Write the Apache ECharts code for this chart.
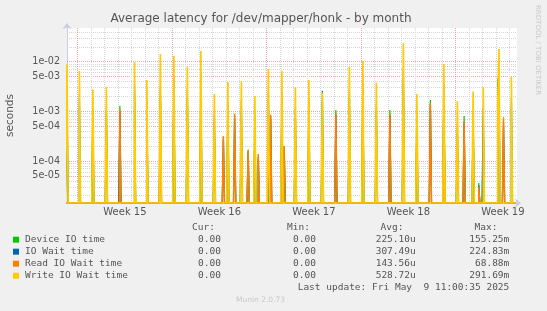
<!DOCTYPE html>
<html><head><meta charset="utf-8">
<script src="https://cdn.jsdelivr.net/npm/echarts@6/dist/echarts.min.js"></script>
<style>html,body{margin:0;padding:0;background:#f0f0f0;} #c{width:547px;height:311px;}</style>
</head><body><div id="c"></div>
<script>
// ---- data ----
const spikeTimes = [
  '2025-04-06 06:00','2025-04-07 04:00','2025-04-08 04:00','2025-04-09 04:00','2025-04-10 04:00',
  '2025-04-11 06:00','2025-04-12 04:00','2025-04-13 04:00','2025-04-14 04:00','2025-04-15 04:00',
  '2025-04-16 04:00','2025-04-17 04:00','2025-04-17 20:00','2025-04-18 04:00','2025-04-18 16:00',
  '2025-04-19 04:00','2025-04-19 16:00','2025-04-20 04:00','2025-04-20 10:00','2025-04-21 04:00',
  '2025-04-21 08:00','2025-04-22 04:00','2025-04-22 08:00','2025-04-23 04:00','2025-04-24 04:00',
  '2025-04-25 04:00','2025-04-26 04:00','2025-04-27 04:00','2025-04-28 04:00','2025-04-29 04:00',
  '2025-04-30 04:00','2025-05-01 04:00','2025-05-02 04:00','2025-05-03 04:00','2025-05-04 04:00',
  '2025-05-05 04:00','2025-05-05 16:00','2025-05-06 08:00','2025-05-06 18:00','2025-05-07 02:00',
  '2025-05-08 04:00','2025-05-08 06:00','2025-05-08 14:00','2025-05-09 04:00'
];
const deviceIO = [
  2.0e-3,1.5e-3,8.0e-4,9.0e-4,1.3e-3,
  2.5e-3,1.2e-3,2.0e-3,3.5e-3,2.0e-3,
  4.0e-3,6.0e-4,2.5e-4,1.0e-3,7.0e-4,
  1.0e-3,1.7e-4,5.0e-4,1.1e-4,1.8e-3,
  7.0e-4,1.6e-3,1.8e-4,8.0e-4,1.2e-3,
  1.5e-3,1.07e-3,2.0e-3,2.5e-3,1.0e-3,
  1.07e-3,5.0e-3,6.0e-4,1.7e-3,2.9e-3,
  4.0e-4,8.1e-4,7.0e-4,3.6e-5,8.0e-4,
  3.8e-3,1.5e-3,5.0e-4,1.3e-3
];
const ioWait = [
  3.0e-3,2.2e-3,1.1e-3,1.2e-3,1.0e-3,
  3.5e-3,1.6e-3,3.1e-3,5.0e-3,2.8e-3,
  6.0e-3,9.0e-4,3.0e-4,1.5e-3,8.0e-4,
  1.6e-3,1.5e-4,8.0e-4,1.2e-4,2.6e-3,
  8.0e-4,2.4e-3,2.0e-4,1.2e-3,1.7e-3,
  2.6e-3,8.5e-4,2.9e-3,3.6e-3,1.4e-3,
  8.5e-4,7.5e-3,9.0e-4,1.4e-3,3.5e-3,
  6.0e-4,6.0e-4,1.0e-3,3.2e-5,1.2e-3,
  4.5e-3,5.0e-3,6.0e-4,1.9e-3
];
const readIO = [
  0,0,0,0,1.1e-3,
  0,0,2.0e-3,0,0,
  0,0,3.2e-4,0,8.9e-4,
  0,1.6e-4,0,1.39e-4,0,
  8.5e-4,0,2.0e-4,0,0,
  0,8.9e-4,0,0,0,
  8.9e-4,0,0,1.46e-3,1.4e-3,
  0,6.4e-4,0,3.0e-5,0,
  0,0,7.6e-4,0
];
const writeIO = [
  9.0e-3,6.5e-3,2.8e-3,3.1e-3,0,
  9.9e-3,4.3e-3,1.43e-2,1.32e-2,7.9e-3,
  1.64e-2,2.24e-3,0,3.9e-3,0,
  4.1e-3,0,2.04e-3,0,7.1e-3,
  0,6.5e-3,0,3.1e-3,4.3e-3,
  2.4e-3,0,7.9e-3,1.03e-2,3.8e-3,
  0,2.35e-2,2.24e-3,0,9.0e-3,
  1.6e-3,0,2.5e-3,0,3.1e-3,
  2.0e-3,1.8e-2,0,4.9e-3
];
const seriesNames = ['Device IO time','IO Wait time','Read IO Wait time','Write IO Wait time'];
const seriesColors = ['#00CC00','#0066B3','#FF8000','#FFCC00'];
const legendCur = ['0.00','0.00','0.00','0.00'];
const legendMin = ['0.00','0.00','0.00','0.00'];
const legendAvg = ['225.10u','307.49u','143.56u','528.72u'];
const legendMax = ['155.25m','224.83m','68.88m','291.69m'];
const yMajorTicks = [1e-2,5e-3,1e-3,5e-4,1e-4,5e-5];
const yMajorLabels = ['1e-02','5e-03','1e-03','5e-04','1e-04','5e-05'];
const yMinorTicks = [4e-2,3e-2,2e-2,9e-3,8e-3,7e-3,6e-3,4e-3,3e-3,2e-3,9e-4,8e-4,7e-4,6e-4,4e-4,3e-4,2e-4,9e-5,8e-5,7e-5,6e-5,4e-5,3e-5,2e-5];
const weekLabels = ['Week 15','Week 16','Week 17','Week 18','Week 19'];
const weekCenters = ['2025-04-10 12:00','2025-04-17 12:00','2025-04-24 12:00','2025-05-01 12:00','2025-05-08 12:00'];
const weekStarts = ['2025-04-07 00:00','2025-04-14 00:00','2025-04-21 00:00','2025-04-28 00:00','2025-05-05 00:00'];
const Y_MIN = 1.426e-5, Y_MAX = 0.0478;
const X_START = '2025-04-06 05:00', X_END = '2025-05-09 13:00';
const DATA_START = '2025-04-06 02:00', DATA_END = '2025-05-09 12:00';

function ts(s){const [d,t]=s.split(' ');const [Y,M,D]=d.split('-').map(Number);const [h,m]=(t||'00:00').split(':').map(Number);return Date.UTC(Y,M-1,D,h,m);}
const STEP = 2*3600*1000;
const spikeIdx = {}; spikeTimes.forEach((s,i)=>{spikeIdx[ts(s)]=i;});
function buildSeries(vals){
  const out=[];
  for(let t=ts(DATA_START); t<=ts(DATA_END); t+=STEP){
    const i=spikeIdx[t]; const v=(i===undefined)?0:vals[i];
    out.push([t, v>0?v:Y_MIN]);
  }
  return out;
}
const allVals=[deviceIO,ioWait,readIO,writeIO];
const lineWidths=[1.2,1.2,1.5,1.7];
const xMin=ts(X_START), xMax=ts(X_END);

const FONT='DejaVu Sans';
const MONO='DejaVu Sans Mono';
const RED='rgba(225,110,110,0.6)', GRAY='#d6d6d6';
const gridLines=[];
yMinorTicks.forEach(v=>gridLines.push([{coord:[xMin,v],lineStyle:{color:GRAY,type:[1,1],width:1},label:{show:false}},{coord:[xMax,v]}]));
yMajorTicks.forEach((v,i)=>gridLines.push([{coord:[xMin,v],lineStyle:{color:RED,type:[1,1],width:1},
  label:{show:true,position:'start',formatter:yMajorLabels[i],color:'#555',fontSize:9.6,fontFamily:FONT,distance:7}},{coord:[xMax,v]}]));
const weekStartTs=weekStarts.map(ts);
for(let t=ts('2025-04-07 00:00'); t<=xMax; t+=24*3600*1000){
  if(weekStartTs.indexOf(t)>=0) continue;
  gridLines.push([{coord:[t,Y_MIN],lineStyle:{color:GRAY,type:[1,1],width:1},label:{show:false}},{coord:[t,Y_MAX]}]);
}
weekStartTs.forEach(t=>gridLines.push([{coord:[t,Y_MIN],lineStyle:{color:RED,type:[1,1],width:1},label:{show:false}},{coord:[t,Y_MAX]}]));

const series=seriesNames.map((n,k)=>({
  name:n,type:'line',data:buildSeries(allVals[k]),symbol:'none',showSymbol:false,step:'middle',
  lineStyle:{color:seriesColors[k],width:lineWidths[k]},itemStyle:{color:seriesColors[k]},
  animation:false,silent:true,clip:true,emphasis:{disabled:true},z:2
}));
series[0].markLine={silent:true,symbol:['none','none'],animation:false,z:1,data:gridLines};

const weekCenterTs=weekCenters.map(ts);
const g=[];
g.push({type:'text',x:261,y:19,style:{text:'Average latency for /dev/mapper/honk - by month',fill:'#555',font:'12px '+FONT,textAlign:'center',textVerticalAlign:'middle'}});
g.push({type:'text',x:538,y:5,rotation:-Math.PI/2,style:{text:'RRDTOOL / TOBI OETIKER',fill:'#c8c8c8',font:'7px '+FONT,textAlign:'left',textVerticalAlign:'middle'}});
const hdrY=228, rowY0=239.7, rowDY=12;
[['Cur:',215],['Min:',310],['Avg:',403.5],['Max:',497.5]].forEach(([t,x])=>g.push({type:'text',x:x,y:hdrY,style:{text:t,fill:'#555',font:'9.5px '+MONO,textAlign:'right',textVerticalAlign:'middle'}}));
seriesNames.forEach((n,i)=>{
  const y=rowY0+i*rowDY;
  g.push({type:'rect',shape:{x:13,y:y-3,width:6,height:6},style:{fill:seriesColors[i]}});
  g.push({type:'text',x:25,y:y,style:{text:n,fill:'#555',font:'9.5px '+MONO,textAlign:'left',textVerticalAlign:'middle'}});
  [[legendCur[i],221],[legendMin[i],316],[legendAvg[i],415.7],[legendMax[i],509.3]].forEach(([t,x])=>g.push({type:'text',x:x,y:y,style:{text:t,fill:'#555',font:'9.5px '+MONO,textAlign:'right',textVerticalAlign:'middle'}}));
});
g.push({type:'text',x:509.3,y:287.3,style:{text:'Last update: Fri May  9 11:00:35 2025',fill:'#555',font:'9.5px '+MONO,textAlign:'right',textVerticalAlign:'middle'}});
g.push({type:'text',x:260.5,y:300.3,style:{text:'Munin 2.0.73',fill:'#c8c8c8',font:'7.5px '+FONT,textAlign:'center',textVerticalAlign:'middle'}});

const chart=echarts.init(document.getElementById('c'),null,{renderer:'canvas'});
chart.setOption({
  backgroundColor:'#f0f0f0',animation:false,
  grid:{left:67,top:28,width:450,height:175,show:true,backgroundColor:'#ffffff',borderWidth:0,containLabel:false,outerBoundsMode:'none'},
  xAxis:{type:'value',min:xMin,max:xMax,scale:true,
    axisLine:{show:true,lineStyle:{color:'#c8cce8',width:1},symbol:['none','arrow'],symbolSize:[7,6],symbolOffset:[0,4]},
    axisTick:{show:false},splitLine:{show:false},
    axisLabel:{customValues:weekCenterTs,formatter:(v)=>{const i=weekCenterTs.indexOf(v);return i>=0?weekLabels[i]:'';},color:'#555',fontSize:10,fontFamily:FONT,margin:4,hideOverlap:false}},
  yAxis:{type:'log',logBase:10,min:Y_MIN,max:Y_MAX,
    name:'seconds',nameLocation:'middle',nameRotate:90,nameGap:51,nameTextStyle:{color:'#555',fontSize:10.5,fontFamily:FONT},
    axisLine:{show:true,lineStyle:{color:'#c8cce8',width:1},symbol:['none','arrow'],symbolSize:[7,6],symbolOffset:[0,5]},
    axisTick:{show:false},splitLine:{show:false},axisLabel:{show:false}},
  series:series,
  graphic:g
});
</script></body></html>
